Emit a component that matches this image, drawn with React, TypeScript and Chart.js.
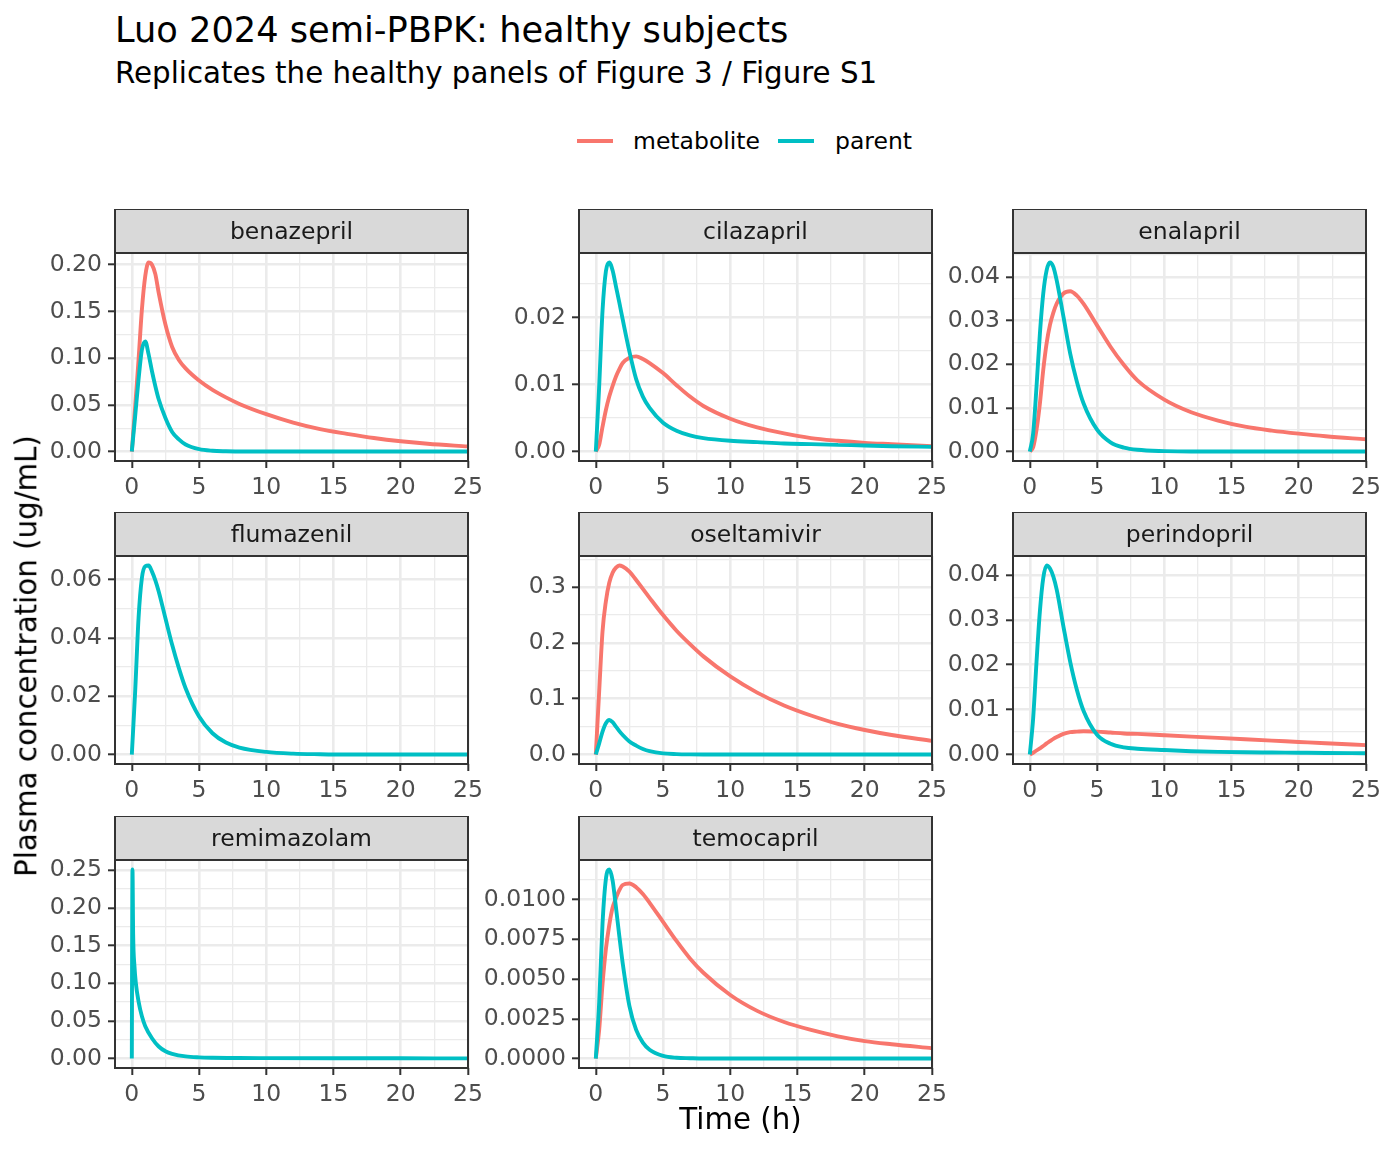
import React, { useEffect, useRef } from 'react';
import Chart from 'chart.js/auto';

document.body.style.margin = '0';
Chart.defaults.font.family = '"DejaVu Sans"';

// sampling times (h)
const hours = [0, 0.25, 0.5, 0.75, 1, 1.25, 1.5, 1.75, 2, 2.5, 3, 3.5, 4, 5, 6, 7, 8, 10, 12, 14, 16, 18, 20, 22, 25];
const remiHours = [0, 0.05, 0.1, 0.2, 0.3, 0.5, 0.75, 1, 1.5, 2, 2.5, 3, 4, 5, 6, 8, 10, 15, 20, 25];

const benazeprilParent = [0, 0.038, 0.077, 0.109, 0.118, 0.104, 0.086, 0.070, 0.056, 0.036, 0.021, 0.013, 0.0075, 0.0025, 0.0008, 0.0003, 0.0001, 0, 0, 0, 0, 0, 0, 0, 0];
const benazeprilMetabolite = [0, 0.048, 0.098, 0.152, 0.188, 0.2025, 0.200, 0.190, 0.170, 0.136, 0.112, 0.098, 0.089, 0.076, 0.066, 0.058, 0.051, 0.040, 0.031, 0.024, 0.019, 0.0145, 0.011, 0.0083, 0.0055];

const cilazaprilParent = [0, 0.0097, 0.021, 0.0269, 0.0282, 0.0270, 0.0246, 0.0222, 0.0197, 0.0149, 0.0108, 0.0082, 0.0065, 0.0043, 0.0031, 0.0024, 0.0020, 0.0016, 0.0014, 0.0012, 0.0011, 0.0010, 0.0009, 0.0008, 0.0007];
const cilazaprilMetabolite = [0, 0.001, 0.0037, 0.0062, 0.0082, 0.0098, 0.0112, 0.0123, 0.0132, 0.0140, 0.0142, 0.0138, 0.0132, 0.0117, 0.0099, 0.0082, 0.0068, 0.0049, 0.0036, 0.0027, 0.0020, 0.0016, 0.0013, 0.0011, 0.0008];

const enalaprilParent = [0, 0.0042, 0.0149, 0.027, 0.0362, 0.0415, 0.0433, 0.0423, 0.0392, 0.0309, 0.0225, 0.016, 0.011, 0.005, 0.0021, 0.0009, 0.0004, 0.0001, 0, 0, 0, 0, 0, 0, 0];
const enalaprilMetabolite = [0, 0.001, 0.005, 0.011, 0.0187, 0.0248, 0.029, 0.0318, 0.0339, 0.0362, 0.0367, 0.0357, 0.0338, 0.0289, 0.0240, 0.0198, 0.0163, 0.0119, 0.0090, 0.0071, 0.0057, 0.0048, 0.0041, 0.0035, 0.0028];

const flumazenilParent = [0, 0.0216, 0.0467, 0.0605, 0.0645, 0.0648, 0.0627, 0.0597, 0.0559, 0.0467, 0.0376, 0.0296, 0.0227, 0.013, 0.0073, 0.0041, 0.0024, 0.0009, 0.0003, 0.0001, 0, 0, 0, 0, 0];

const oseltamivirParent = [0, 0.020, 0.041, 0.056, 0.062, 0.058, 0.050, 0.042, 0.035, 0.0234, 0.016, 0.010, 0.006, 0.002, 0.0008, 0.0003, 0.0001, 0, 0, 0, 0, 0, 0, 0, 0];
const oseltamivirMetabolite = [0, 0.113, 0.221, 0.275, 0.308, 0.326, 0.335, 0.339, 0.337, 0.328, 0.313, 0.297, 0.281, 0.250, 0.222, 0.198, 0.176, 0.140, 0.111, 0.088, 0.070, 0.055, 0.044, 0.035, 0.0245];

const perindoprilParent = [0, 0.0081, 0.0207, 0.0319, 0.0393, 0.0421, 0.0414, 0.0396, 0.0367, 0.0285, 0.0207, 0.0144, 0.0097, 0.0044, 0.0024, 0.0016, 0.0013, 0.0010, 0.00075, 0.0006, 0.0005, 0.00045, 0.0004, 0.00035, 0.0003];
const perindoprilMetabolite = [0, 0.0004, 0.0009, 0.0014, 0.0019, 0.0025, 0.0030, 0.0035, 0.0039, 0.0046, 0.0050, 0.0051, 0.0052, 0.0051, 0.0049, 0.0047, 0.0046, 0.0043, 0.0040, 0.0037, 0.0034, 0.0031, 0.0028, 0.0025, 0.0021];

const remimazolamParent = [0, 0.251, 0.165, 0.122, 0.100, 0.076, 0.056, 0.043, 0.027, 0.016, 0.0097, 0.0063, 0.0028, 0.0015, 0.001, 0.0007, 0.0006, 0.0004, 0.0003, 0.0002];

const temocaprilParent = [0, 0.0035, 0.0085, 0.0113, 0.0119, 0.0112, 0.0095, 0.0077, 0.0060, 0.0033, 0.0018, 0.0010, 0.00055, 0.00017, 0.00005, 0.00002, 0, 0, 0, 0, 0, 0, 0, 0, 0];
const temocaprilMetabolite = [0, 0.0018, 0.0047, 0.0069, 0.0084, 0.0095, 0.0101, 0.0106, 0.01092, 0.01102, 0.01078, 0.01035, 0.0098, 0.0086, 0.0074, 0.0063, 0.0054, 0.0040, 0.0030, 0.0023, 0.0018, 0.0014, 0.0011, 0.0009, 0.00065];

const xTicks = [0, 5, 10, 15, 20, 25];
const yTicks2 = [0, 0.05, 0.1, 0.15, 0.2];
const yTicksCila = [0, 0.01, 0.02];
const yTicksEna = [0, 0.01, 0.02, 0.03, 0.04];
const yTicksFlu = [0, 0.02, 0.04, 0.06];
const yTicksOse = [0, 0.1, 0.2, 0.3];
const yTicksRemi = [0, 0.05, 0.1, 0.15, 0.2, 0.25];
const yTicksTemo = [0, 0.0025, 0.005, 0.0075, 0.01];

const METAB = '#F8766D';
const PARENT = '#00BFC4';

interface Panel {
  name: string;
  col: number;
  row: number;
  t: number[];
  parent: number[];
  metabolite?: number[];
  yTicks: number[];
  decimals: number;
}

const panels: Panel[] = [
  { name: 'benazepril', col: 0, row: 0, t: hours, parent: benazeprilParent, metabolite: benazeprilMetabolite, yTicks: yTicks2, decimals: 2 },
  { name: 'cilazapril', col: 1, row: 0, t: hours, parent: cilazaprilParent, metabolite: cilazaprilMetabolite, yTicks: yTicksCila, decimals: 2 },
  { name: 'enalapril', col: 2, row: 0, t: hours, parent: enalaprilParent, metabolite: enalaprilMetabolite, yTicks: yTicksEna, decimals: 2 },
  { name: 'flumazenil', col: 0, row: 1, t: hours, parent: flumazenilParent, yTicks: yTicksFlu, decimals: 2 },
  { name: 'oseltamivir', col: 1, row: 1, t: hours, parent: oseltamivirParent, metabolite: oseltamivirMetabolite, yTicks: yTicksOse, decimals: 1 },
  { name: 'perindopril', col: 2, row: 1, t: hours, parent: perindoprilParent, metabolite: perindoprilMetabolite, yTicks: yTicksEna, decimals: 2 },
  { name: 'remimazolam', col: 0, row: 2, t: remiHours, parent: remimazolamParent, yTicks: yTicksRemi, decimals: 2 },
  { name: 'temocapril', col: 1, row: 2, t: hours, parent: temocaprilParent, metabolite: temocaprilMetabolite, yTicks: yTicksTemo, decimals: 4 },
];

// layout
const COL_LEFT = [115, 579, 1013];
const ROW_TOP = [253, 556, 860];
const PANEL_W = 353;
const PANEL_H = 208;
const STRIP_H = 44;
const Y_AXIS_W = 110;
const X_AXIS_H = 45;
const PAD_R = 22;
const X_MIN = -1.25;
const X_MAX = 25;

const isMajor = (majors: number[], v: number) => majors.some(m => Math.abs(m - v) < 1e-9);

const withMinors = (majors: number[], lo: number, hi: number) => {
  const step = majors[1] - majors[0];
  const all = [...majors, majors[0] - step / 2, majors[majors.length - 1] + step / 2];
  for (let i = 0; i < majors.length - 1; i++) all.push((majors[i] + majors[i + 1]) / 2);
  return all.filter(v => v >= lo && v <= hi).sort((a, b) => a - b);
};

const gridFor = (majors: number[]) => ({
  color: '#EBEBEB',
  lineWidth: (c: any) => (isMajor(majors, c.tick.value) ? 2.6 : 1.3),
  drawTicks: true,
  tickLength: 7,
  tickWidth: 2,
  tickColor: (c: any) => (isMajor(majors, c.tick.value) ? '#333333' : 'rgba(0,0,0,0)'),
});

const frame = (title: string) => ({
  id: 'frame',
  afterDraw(chart: any) {
    const { ctx } = chart;
    const { left, right, top, bottom } = chart.chartArea;
    ctx.save();
    ctx.fillStyle = '#D9D9D9';
    ctx.fillRect(left, top - STRIP_H, right - left, STRIP_H);
    ctx.strokeStyle = '#333333';
    ctx.lineWidth = 2;
    ctx.strokeRect(left, top - STRIP_H, right - left, STRIP_H);
    ctx.strokeRect(left, top, right - left, bottom - top);
    ctx.fillStyle = '#1A1A1A';
    ctx.font = '23.5px "DejaVu Sans"';
    ctx.textAlign = 'center';
    ctx.textBaseline = 'alphabetic';
    ctx.fillText(title, (left + right) / 2, top - STRIP_H + 30);
    ctx.restore();
  },
});

const PanelChart: React.FC<{ panel: Panel }> = ({ panel }) => {
  const chartRef = useRef<HTMLCanvasElement>(null);

  useEffect(() => {
    if (!chartRef.current) return;
    const values = [...panel.parent, ...(panel.metabolite || [])];
    const lo = Math.min(...values);
    const hi = Math.max(...values);
    const yMin = lo - (hi - lo) * 0.05;
    const yMax = hi + (hi - lo) * 0.05;
    const yAll = withMinors(panel.yTicks, yMin, yMax);
    const xAll = withMinors(xTicks, X_MIN, X_MAX);

    const line = {
      pointRadius: 0,
      borderWidth: 3.9,
      fill: false,
      cubicInterpolationMode: 'monotone' as const,
    };
    const datasets: any[] = [
      { label: 'parent', data: panel.t.map((x, i) => ({ x, y: panel.parent[i] })), borderColor: PARENT, order: 0, ...line },
    ];
    if (panel.metabolite) {
      const m = panel.metabolite;
      datasets.push({ label: 'metabolite', data: panel.t.map((x, i) => ({ x, y: m[i] })), borderColor: METAB, order: 1, ...line });
    }

    const tickFont = { size: 23.5, family: '"DejaVu Sans"' };
    const myChart = new Chart(chartRef.current, {
      type: 'line',
      data: { datasets },
      options: {
        animation: false,
        responsive: false,
        maintainAspectRatio: false,
        events: [],
        layout: { padding: { top: STRIP_H, right: PAD_R, left: 0, bottom: 0 } },
        plugins: { legend: { display: false }, tooltip: { enabled: false } },
        scales: {
          x: {
            type: 'linear',
            min: X_MIN,
            max: X_MAX,
            afterFit: (s: any) => { s.height = X_AXIS_H; },
            afterBuildTicks: (s: any) => { s.ticks = xAll.map(v => ({ value: v })); },
            grid: gridFor(xTicks) as any,
            border: { display: false },
            ticks: {
              autoSkip: false,
              maxRotation: 0,
              padding: 6,
              color: '#4D4D4D',
              font: tickFont,
              callback: (v: any) => (isMajor(xTicks, Number(v)) ? String(v) : ''),
            },
          },
          y: {
            type: 'linear',
            min: yMin,
            max: yMax,
            afterFit: (s: any) => { s.width = Y_AXIS_W; },
            afterBuildTicks: (s: any) => { s.ticks = yAll.map(v => ({ value: v })); },
            grid: gridFor(panel.yTicks) as any,
            border: { display: false },
            ticks: {
              autoSkip: false,
              padding: 6,
              color: '#4D4D4D',
              font: tickFont,
              callback: (v: any) => (isMajor(panel.yTicks, Number(v)) ? Number(v).toFixed(panel.decimals) : ''),
            },
          },
        },
      },
      plugins: [frame(panel.name)],
    });

    return () => {
      myChart.destroy();
    };
  }, [panel]);

  return (
    <canvas
      ref={chartRef}
      width={Y_AXIS_W + PANEL_W + PAD_R}
      height={STRIP_H + PANEL_H + X_AXIS_H}
      style={{ position: 'absolute', left: COL_LEFT[panel.col] - Y_AXIS_W, top: ROW_TOP[panel.row] - STRIP_H }}
    />
  );
};

const text = (size: number, color = '#000'): React.CSSProperties => ({
  position: 'absolute',
  fontFamily: '"DejaVu Sans"',
  fontSize: size,
  lineHeight: 1,
  color,
  whiteSpace: 'nowrap',
});

const App: React.FC = () => (
  <div style={{ position: 'relative', width: 1382, height: 1152, background: '#fff', overflow: 'hidden' }}>
    <div style={{ ...text(35.2), left: 115, top: 12 }}>Luo 2024 semi-PBPK: healthy subjects</div>
    <div style={{ ...text(29.3), left: 115, top: 58.5 }}>Replicates the healthy panels of Figure 3 / Figure S1</div>

    <div style={{ position: 'absolute', left: 577, top: 139, width: 36, height: 4, background: METAB }} />
    <div style={{ ...text(23.5), left: 633, top: 130 }}>metabolite</div>
    <div style={{ position: 'absolute', left: 778, top: 139, width: 36, height: 4, background: PARENT }} />
    <div style={{ ...text(23.5), left: 835, top: 130 }}>parent</div>

    {panels.map(p => (
      <PanelChart key={p.name} panel={p} />
    ))}

    <div style={{ ...text(29.3), left: 27, top: 656, transform: 'translate(-50%, -50%) rotate(-90deg)' }}>
      Plasma concentration (ug/mL)
    </div>
    <div style={{ ...text(29.3), left: 740.5, top: 1105, transform: 'translateX(-50%)' }}>Time (h)</div>
  </div>
);

export default App;
